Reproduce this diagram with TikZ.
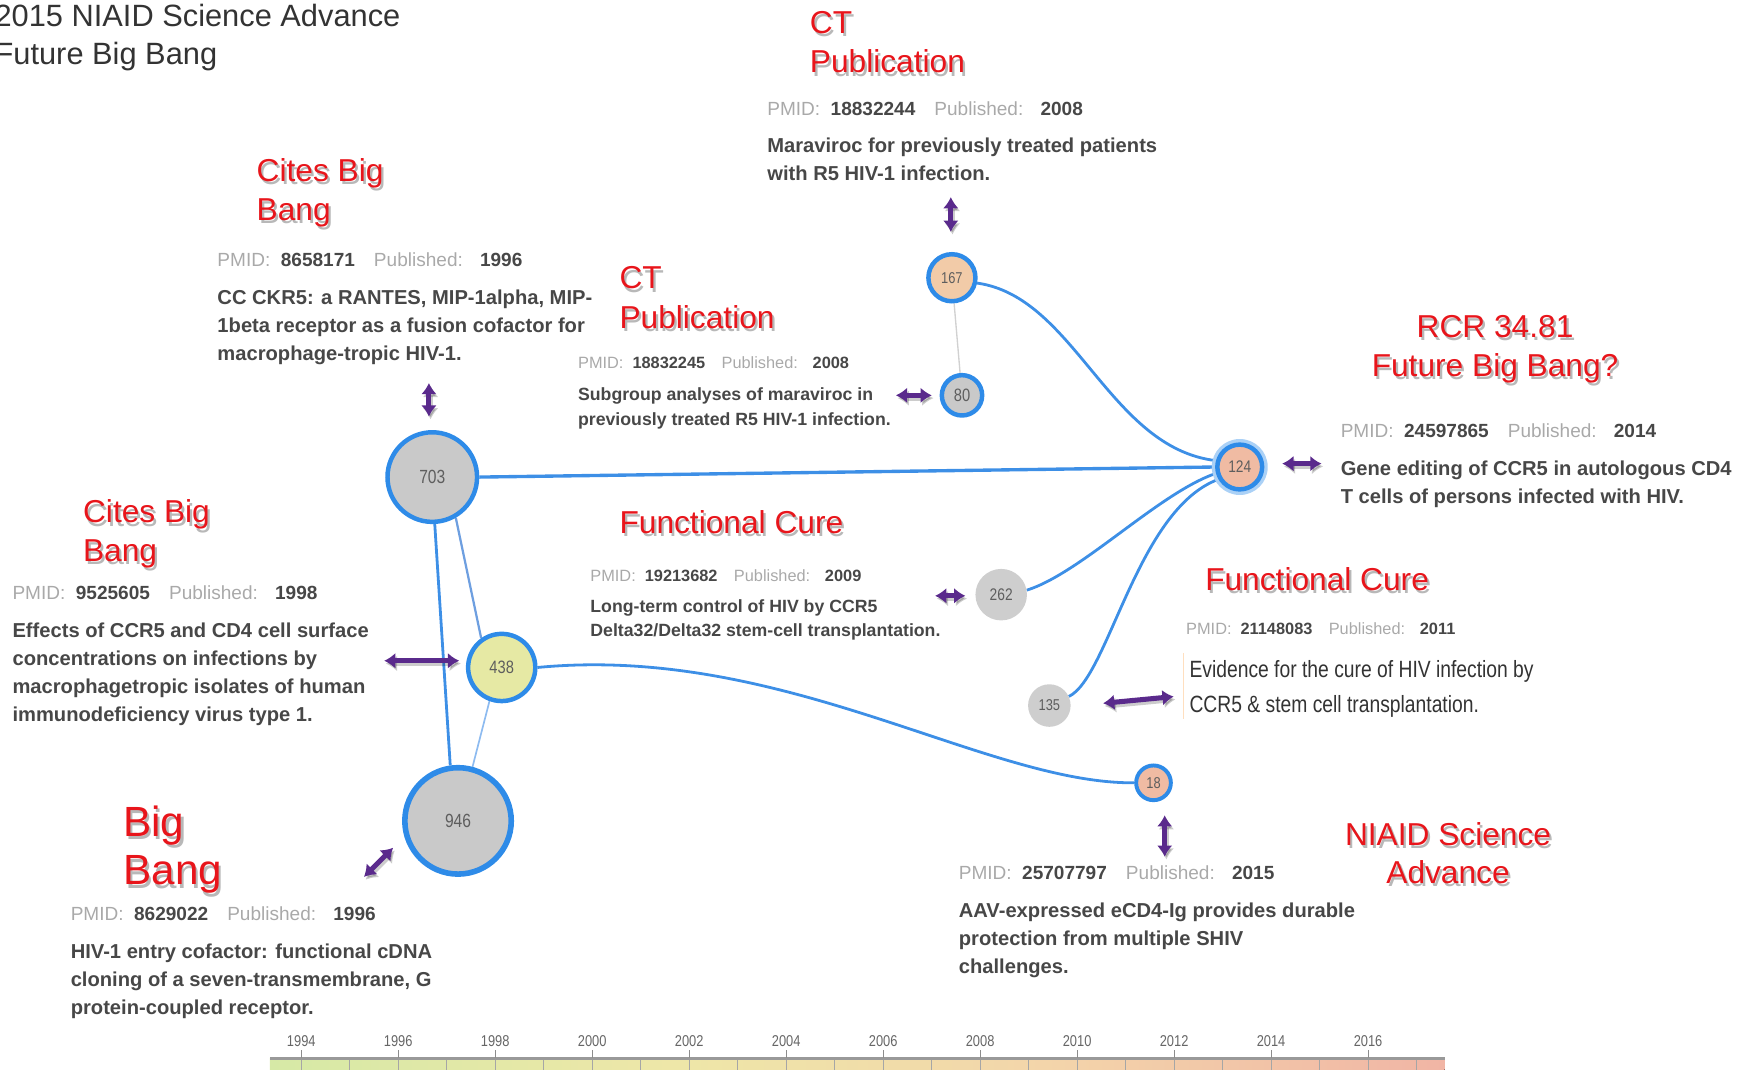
\documentclass[tikz,border=0pt]{standalone}
\usepackage{fontspec}
\setmainfont{Liberation Sans}
\newfontfamily\narrowfont[FakeStretch=0.82]{Liberation Sans}
\usetikzlibrary{arrows.meta,backgrounds}
\definecolor{nodeblue}{HTML}{2E8BE8}
\definecolor{edgeblue}{HTML}{3D8FE6}
\definecolor{edgelight}{HTML}{6E9FE0}
\definecolor{edgepale}{HTML}{8DBBF0}
\definecolor{bubgray}{HTML}{C9C9C9}
\definecolor{bubyellow}{HTML}{E6E9A4}
\definecolor{bubpeach}{HTML}{F2CBA8}
\definecolor{bubpink}{HTML}{F0BBA3}
\definecolor{numgray}{HTML}{5E5E5E}
\definecolor{apurple}{HTML}{5A2A8C}
\definecolor{redlab}{HTML}{E8151B}
\definecolor{txtgray}{HTML}{474747}
\definecolor{lblgray}{HTML}{A9A9A9}
\definecolor{titlegray}{HTML}{333333}
\definecolor{tlA}{HTML}{D6E9A6}
\definecolor{tlB}{HTML}{EEE7A8}
\definecolor{tlC}{HTML}{F3D5AA}
\definecolor{tlD}{HTML}{F1B5A5}
\pgfdeclarehorizontalshading{timeline}{100bp}{color(0bp)=(tlA); color(25bp)=(tlA); color(42bp)=(tlB); color(58bp)=(tlC); color(75bp)=(tlD); color(100bp)=(tlD)}
\newcommand\RedLab[5][]{%
  \node[redtext,#1,anchor=#4,text=black,opacity=0.28,xshift=2pt,yshift=-3pt] at #3 {#5};
  \node[redtext,#1,anchor=#4] (#2) at #3 {#5};}
\newcommand\PM[2]{{\color{lblgray}PMID:}\hspace{0.55em}{\bfseries\color{txtgray}#1}\hspace{1em}{\color{lblgray}Published:}\hspace{0.9em}{\bfseries\color{txtgray}#2}}
\newcommand\PArr[2]{\draw[parrowsh] (#1) -- (#2); \draw[parrow] (#1) -- (#2);}
\begin{document}
\begin{tikzpicture}[x=1pt,y=-1pt,
  redtext/.style={inner sep=0pt,text=redlab,font=\fontsize{28.3}{34}\selectfont},
  bigred/.style={font=\fontsize{37.7}{43}\selectfont},
  pm/.style={anchor=base west,inner sep=0pt,font=\fontsize{17}{20}\selectfont},
  pms/.style={anchor=base west,inner sep=0pt,font=\fontsize{14.6}{17}\selectfont},
  body/.style={anchor=base west,inner sep=0pt,text=txtgray,font=\fontsize{18}{22}\selectfont\bfseries},
  bodys/.style={anchor=base west,inner sep=0pt,text=txtgray,font=\fontsize{15.8}{19}\selectfont\bfseries},
  bodyn/.style={anchor=base west,inner sep=0pt,text=black!80,font=\narrowfont\fontsize{21}{24}\selectfont},
  bub/.style={circle,draw=nodeblue,line width=4pt,fill=#1,inner sep=0pt,text=numgray,font=\narrowfont\fontsize{14}{14}\selectfont},
  plainbub/.style={circle,fill=bubgray!90,inner sep=0pt,text=numgray,font=\narrowfont\fontsize{14}{14}\selectfont},
  edge/.style={draw=edgeblue,line width=2.5pt},
  parrow/.style={draw=apurple,line width=4.5pt,{Latex[length=10pt,width=14pt]}-{Latex[length=10pt,width=14pt]}},
  parrowsh/.style={parrow,draw=black,opacity=0.2,transform canvas={xshift=1.5pt,yshift=-2.5pt}},
  ticklab/.style={inner sep=0pt,text=black!60,font=\narrowfont\fontsize{14}{14}\selectfont}]
\useasboundingbox (0,0) rectangle (1568,955);

% title
\node[anchor=base west,inner sep=0pt,text=titlegray,font=\fontsize{27.5}{30}\selectfont] (title1) at (-5,24) {2015 NIAID Science Advance};
\node[anchor=base west,inner sep=0pt,text=titlegray,font=\fontsize{27.5}{30}\selectfont] (title2) at (-5,58) {Future Big Bang};

% bubbles
\node[bub=bubgray,minimum size=80pt,font=\narrowfont\fontsize{17}{17}\selectfont] (n703) at (386,426) {703};
\node[bub=bubyellow,minimum size=60pt,font=\narrowfont\fontsize{16}{16}\selectfont] (n438) at (448,596) {438};
\node[bub=bubgray,minimum size=95pt,line width=5pt,font=\narrowfont\fontsize{17}{17}\selectfont] (n946) at (409,733) {946};
\node[bub=bubpeach,minimum size=42pt] (n167) at (850,248) {167};
\node[bub=bubgray,minimum size=36pt,font=\narrowfont\fontsize{16}{16}\selectfont] (n80) at (859,353) {80};
\node[circle,fill=nodeblue!40,minimum size=50pt,inner sep=0pt] (n124halo) at (1107,417) {};
\node[bub=bubpink,minimum size=40pt,font=\narrowfont\fontsize{15}{15}\selectfont] (n124) at (1107,417) {124};
\node[plainbub,minimum size=46pt,font=\narrowfont\fontsize{15}{15}\selectfont] (n262) at (894,531) {262};
\node[plainbub,minimum size=38pt] (n135) at (937,630) {135};
\node[bub=bubpink,minimum size=31pt,line width=3.5pt] (n18) at (1030,699) {18};

% edges
\begin{scope}[on background layer]
\draw[edge,line width=3pt] (n703.east) -- (n124.west);
\draw[edge] (n703.-87) -- (n946.98);
\draw[draw=edgelight,line width=2pt] (n703.-60) -- (n438.125);
\draw[draw=edgepale,line width=1.5pt] (n438.-110) -- (n946.75);
\draw[edge] (n438.east) .. controls (700,575) and (880,700) .. (n18.west);
\draw[edge] (n167.-12) .. controls (960,265) and (990,400) .. (n124.165);
\draw[edge] (n262.10) .. controls (965,512) and (1035,440) .. (n124.195);
\draw[edge] (n135.25) .. controls (990,605) and (1015,455) .. (n124.210);
\draw[black!18,line width=1.2pt] (n167) -- (n80);
\draw[orange!25,line width=1pt] (1057,583) -- (1057,642);
\end{scope}

% purple arrows
\coordinate (a1s) at (383,342); \coordinate (a1e) at (383,372);
\coordinate (a2s) at (849,176); \coordinate (a2e) at (849,207);
\coordinate (a3s) at (800,353); \coordinate (a3e) at (832,353);
\coordinate (a4s) at (1145,414); \coordinate (a4e) at (1180,414);
\coordinate (a5s) at (343,590); \coordinate (a5e) at (410,590);
\coordinate (a6s) at (835,532); \coordinate (a6e) at (862,532);
\coordinate (a7s) at (985,628); \coordinate (a7e) at (1048,622);
\coordinate (a8s) at (1040,728); \coordinate (a8e) at (1040,765);
\coordinate (a9s) at (325,783); \coordinate (a9e) at (351,757);
\PArr{a1s}{a1e}
\PArr{a2s}{a2e}
\PArr{a3s}{a3e}
\PArr{a4s}{a4e}
\PArr{a5s}{a5e}
\PArr{a6s}{a6e}
\PArr{a7s}{a7e}
\PArr{a8s}{a8e}
\PArr{a9s}{a9e}

% block 1
\RedLab{r1a}{(229,162)}{base west}{Cites Big}
\RedLab{r1b}{(229,197)}{base west}{Bang}
\node[pm] (p1) at (194,238) {\PM{8658171}{1996}};
\node[body] (t1a) at (194,272) {CC CKR5: a RANTES, MIP-1alpha, MIP-};
\node[body] (t1b) at (194,297) {1beta receptor as a fusion cofactor for};
\node[body] (t1c) at (194,322) {macrophage-tropic HIV-1.};

% block 2
\RedLab{r2a}{(723,30)}{base west}{CT}
\RedLab{r2b}{(723,65)}{base west}{Publication}
\node[pm] (p2) at (685,103) {\PM{18832244}{2008}};
\node[body] (t2a) at (685,136) {Maraviroc for previously treated patients};
\node[body] (t2b) at (685,161) {with R5 HIV-1 infection.};

% block 3
\RedLab{r3a}{(553,258)}{base west}{CT}
\RedLab{r3b}{(553,293)}{base west}{Publication}
\node[pms] (p3) at (516,329) {\PM{18832245}{2008}};
\node[bodys] (t3a) at (516,358) {Subgroup analyses of maraviroc in};
\node[bodys] (t3b) at (516,380) {previously treated R5 HIV-1 infection.};

% block 4
\RedLab{r4a}{(1335,301)}{base}{RCR 34.81}
\RedLab{r4b}{(1335,336)}{base}{Future Big Bang?}
\node[pm] (p4) at (1197,391) {\PM{24597865}{2014}};
\node[body] (t4a) at (1197,425) {Gene editing of CCR5 in autologous CD4};
\node[body] (t4b) at (1197,450) {T cells of persons infected with HIV.};

% block 5
\RedLab{r5a}{(74,467)}{base west}{Cites Big}
\RedLab{r5b}{(74,501)}{base west}{Bang}
\node[pm] (p5) at (11,535) {\PM{9525605}{1998}};
\node[body] (t5a) at (11,569) {Effects of CCR5 and CD4 cell surface};
\node[body] (t5b) at (11,594) {concentrations on infections by};
\node[body] (t5c) at (11,619) {macrophagetropic isolates of human};
\node[body] (t5d) at (11,644) {immunodeficiency virus type 1.};

% block 6
\RedLab{r6}{(553,476)}{base west}{Functional Cure}
\node[pms] (p6) at (527,519) {\PM{19213682}{2009}};
\node[bodys] (t6a) at (527,547) {Long-term control of HIV by CCR5};
\node[bodys] (t6b) at (527,568) {Delta32/Delta32 stem-cell transplantation.};

% block 7
\RedLab{r7}{(1076,527)}{base west}{Functional Cure}
\node[pms] (p7) at (1059,567) {\PM{21148083}{2011}};
\node[bodyn] (t7a) at (1062,605) {Evidence for the cure of HIV infection by};
\node[bodyn] (t7b) at (1062,636) {CCR5 \& stem cell transplantation.};

% block 8
\RedLab[bigred]{r8a}{(110,747)}{base west}{Big}
\RedLab[bigred]{r8b}{(110,790)}{base west}{Bang}
\node[pm] (p8) at (63,822) {\PM{8629022}{1996}};
\node[body] (t8a) at (63,856) {HIV-1 entry cofactor: functional cDNA};
\node[body] (t8b) at (63,881) {cloning of a seven-transmembrane, G};
\node[body] (t8c) at (63,906) {protein-coupled receptor.};

% block 9
\RedLab{r9a}{(1293,755)}{base}{NIAID Science}
\RedLab{r9b}{(1293,789)}{base}{Advance}
\node[pm] (p9) at (856,785) {\PM{25707797}{2015}};
\node[body] (t9a) at (856,819) {AAV-expressed eCD4-Ig provides durable};
\node[body] (t9b) at (856,844) {protection from multiple SHIV};
\node[body] (t9c) at (856,869) {challenges.};

% timeline
\fill[shading=timeline] (241,945) rectangle (1290,970);
\foreach \k in {0,...,23} \draw[black!35,line width=1pt] ({269+43.3*\k},945) -- ({269+43.3*\k},970);
\draw[black!40,line width=2.2pt] (241,945) -- (1290,945);
\foreach \i/\yr in {0/1994,1/1996,2/1998,3/2000,4/2002,5/2004,6/2006,7/2008,8/2010,9/2012,10/2014,11/2016}{
  \draw[black!45,line width=1pt] ({269+86.6*\i},938) -- ({269+86.6*\i},945);
  \node[ticklab] (yr\yr) at ({269+86.6*\i},929.5) {\yr};
}
\end{tikzpicture}
\end{document}
